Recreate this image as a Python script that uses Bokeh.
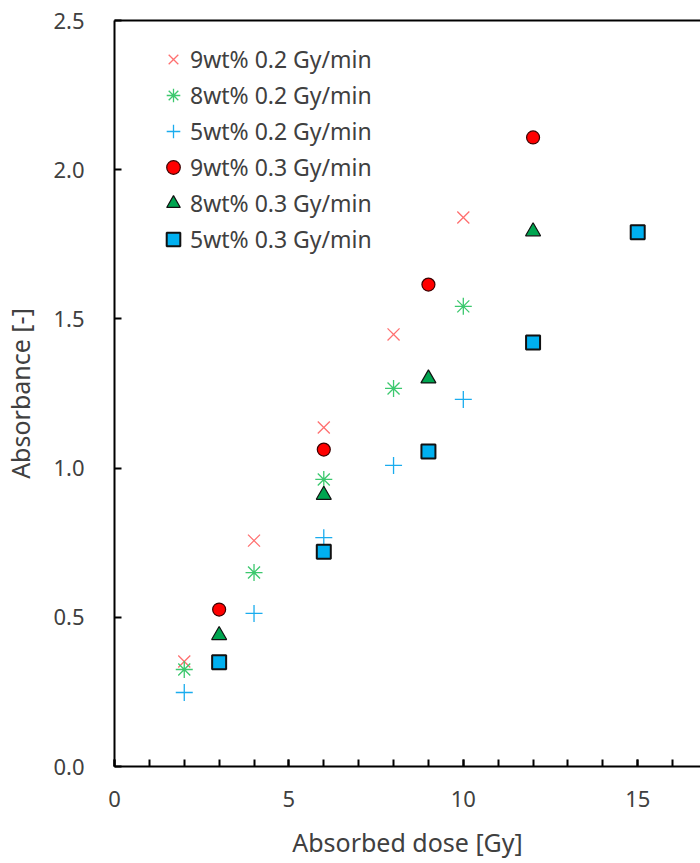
from bokeh.plotting import figure
from bokeh.models import Range1d, LinearAxis, Legend, LegendItem, FixedTicker, NumeralTickFormatter
from bokeh.embed import file_html
from bokeh.resources import INLINE

# Data
x_02 = [2, 4, 6, 8, 10]
y_9wt_02 = [0.352, 0.757, 1.136, 1.448, 1.840]
y_8wt_02 = [0.325, 0.650, 0.962, 1.267, 1.542]
y_5wt_02 = [0.248, 0.513, 0.767, 1.009, 1.230]

x_03_a = [3, 6, 9, 12]
y_9wt_03 = [0.526, 1.062, 1.615, 2.108]
y_8wt_03 = [0.440, 0.910, 1.300, 1.793]
x_03_b = [3, 6, 9, 12, 15]
y_5wt_03 = [0.349, 0.720, 1.056, 1.421, 1.790]

labels = ["9wt% 0.2 Gy/min", "8wt% 0.2 Gy/min", "5wt% 0.2 Gy/min",
          "9wt% 0.3 Gy/min", "8wt% 0.3 Gy/min", "5wt% 0.3 Gy/min"]
x_ticks = [0, 5, 10, 15]
y_ticks = [0.0, 0.5, 1.0, 1.5, 2.0, 2.5]

FONT = "Noto Sans"
TXT = "#404040"

p = figure(width=700, height=863, output_backend="svg", toolbar_location=None,
           x_range=Range1d(0, 16.8), y_range=Range1d(0, 2.5),
           min_border_left=114, min_border_right=0, min_border_top=20, min_border_bottom=97)
p.outline_line_color = None
p.xgrid.visible = False
p.ygrid.visible = False
p.background_fill_color = "white"

# markers
r1 = p.scatter(x_02, y_9wt_02, marker="x", size=17, line_color="#FF7070", line_width=1.3)
r2 = p.scatter(x_02, y_8wt_02, marker="asterisk", size=17, line_color="#3CC86E", line_width=1.3)
r3 = p.scatter(x_02, y_5wt_02, marker="cross", size=17, line_color="#1AACEE", line_width=1.3)
r4 = p.scatter(x_03_a, y_9wt_03, marker="circle", size=13, fill_color="#FF0000", line_color="#3a0000", line_width=1.2)
r5 = p.scatter(x_03_a, y_8wt_03, marker="triangle", size=15, fill_color="#00A550", line_color="#111111", line_width=1.2)
r6 = p.scatter(x_03_b, y_5wt_03, marker="square", size=14, fill_color="#00B0F0", line_color="#111111", line_width=2)

# axes
for ax in (p.xaxis[0], p.yaxis[0]):
    ax.axis_line_width = 2
    ax.axis_line_color = "black"
    ax.major_tick_line_width = 2
    ax.minor_tick_line_width = 2
    ax.major_tick_in = 7
    ax.major_tick_out = 0
    ax.major_label_text_font = FONT
    ax.major_label_text_font_size = "22px"
    ax.major_label_text_color = TXT
    ax.axis_label_text_font = FONT
    ax.axis_label_text_font_size = "25px"
    ax.axis_label_text_font_style = "normal"
    ax.axis_label_text_color = TXT

p.xaxis[0].ticker = FixedTicker(ticks=x_ticks, minor_ticks=list(range(0, 17)))
p.xaxis[0].minor_tick_in = 7
p.xaxis[0].minor_tick_out = 0
p.xaxis[0].major_label_standoff = 24
p.xaxis[0].axis_label = "Absorbed dose [Gy]"
p.xaxis[0].axis_label_standoff = 15

p.yaxis[0].ticker = FixedTicker(ticks=y_ticks)
p.yaxis[0].minor_tick_line_color = None
p.yaxis[0].major_label_standoff = 30
p.yaxis[0].formatter = NumeralTickFormatter(format="0.0")
p.yaxis[0].axis_label = "Absorbance [-]"
p.yaxis[0].axis_label_standoff = 13

top = LinearAxis(ticker=FixedTicker(ticks=[]), major_label_text_font_size="0px",
                 axis_line_width=2, axis_line_color="black",
                 major_tick_line_color=None, minor_tick_line_color=None)
p.add_layout(top, "above")

legend = Legend(items=[LegendItem(label=l, renderers=[r]) for l, r in
                       zip(labels, [r1, r2, r3, r4, r5, r6])],
                location=(42, 509), padding=0, margin=0, spacing=0,
                glyph_width=34, glyph_height=36, label_height=36, label_standoff=0,
                label_text_font=FONT, label_text_font_size="23px", label_text_color=TXT,
                background_fill_alpha=0, border_line_color=None)
p.add_layout(legend, "center")

open("out.html", "w").write(file_html(p, INLINE))
